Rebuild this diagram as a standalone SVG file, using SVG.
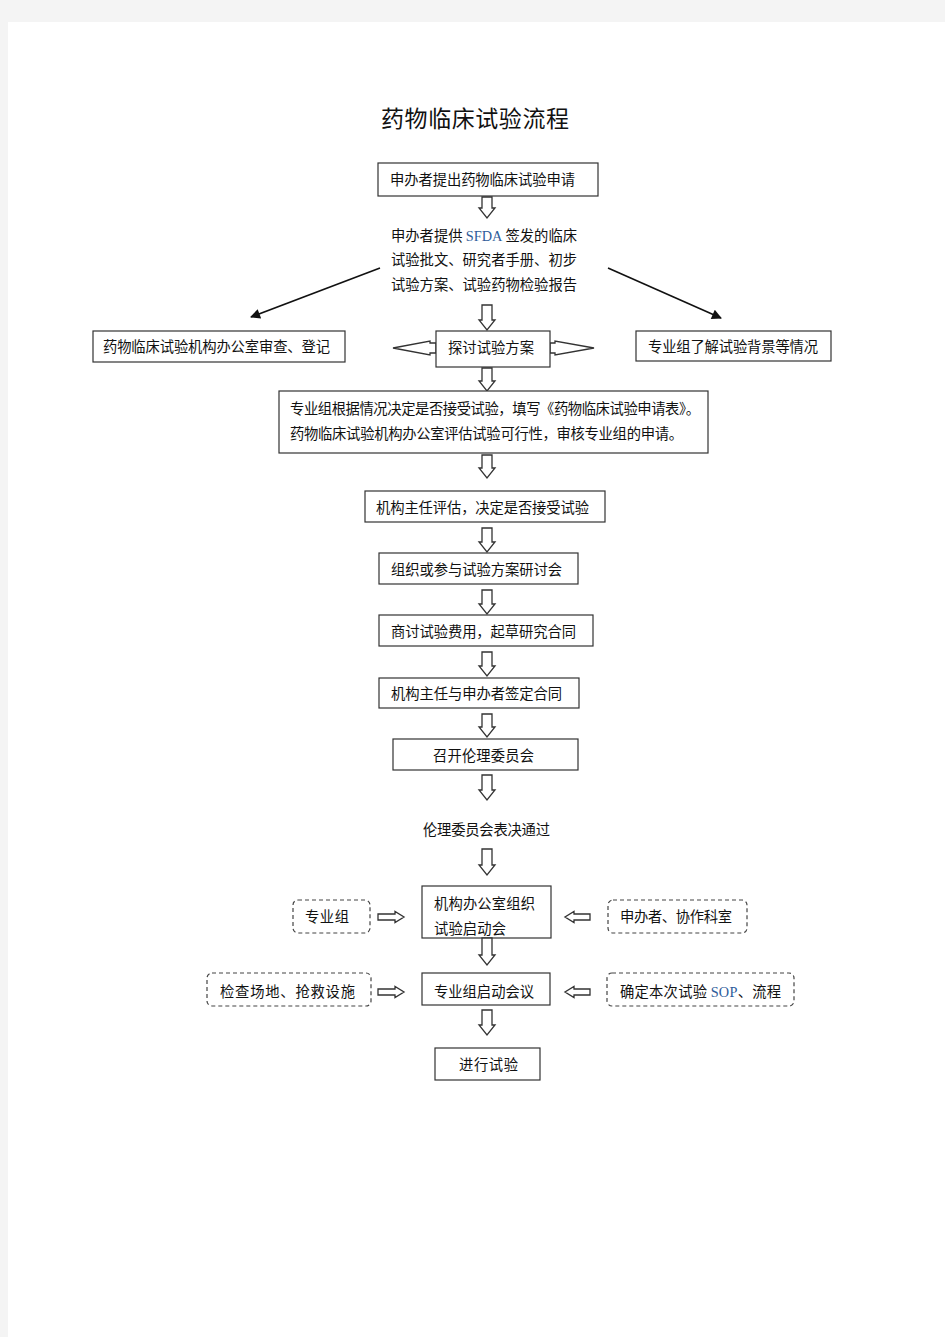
<svg xmlns="http://www.w3.org/2000/svg" width="945" height="1337" viewBox="0 0 945 1337">
<style>
text{font-family:"Noto Sans CJK SC","Liberation Sans",sans-serif;fill:#111;font-size:14.3px}
.box{fill:#fff;stroke:#333;stroke-width:1.2}
.dash{fill:#fff;stroke:#444;stroke-width:1.2;stroke-dasharray:4 3}
.ha{fill:#fff;stroke:#333;stroke-width:1.3}
.en{font-family:"Liberation Serif",serif;fill:#2e5c9a}
.ln{stroke:#111;stroke-width:1.6;fill:none}
</style>
<defs>
<marker id="ah" viewBox="0 0 10 10" refX="9" refY="5" markerWidth="12" markerHeight="10" orient="auto" markerUnits="userSpaceOnUse">
<path d="M0,0 L10,5 L0,10 Z" fill="#111"/>
</marker>
</defs>
<rect x="0" y="0" width="945" height="1337" fill="#f4f4f4"/>
<rect x="8" y="22" width="937" height="1315" fill="#fff"/>
<text x="475" y="127" text-anchor="middle" style="font-size:23px" textLength="188">药物临床试验流程</text>

<g id="connectors">
<path class="ha" d="M482,197 H492 V208 H495 L487,218 L479,208 H482 Z"/>
<path class="ha" d="M482,305 H492 V320 H495 L487,330 L479,320 H482 Z"/>
<path class="ha" d="M482,368 H492 V381 H495 L487,391 L479,381 H482 Z"/>
<path class="ha" d="M482,455 H492 V468 H495 L487,478 L479,468 H482 Z"/>
<path class="ha" d="M482,528 H492 V542 H495 L487,552 L479,542 H482 Z"/>
<path class="ha" d="M482,590 H492 V604 H495 L487,614 L479,604 H482 Z"/>
<path class="ha" d="M482,652 H492 V666 H495 L487,676 L479,666 H482 Z"/>
<path class="ha" d="M482,714 H492 V727 H495 L487,737 L479,727 H482 Z"/>
<path class="ha" d="M482,775 H492 V790 H495 L487,800 L479,790 H482 Z"/>
<path class="ha" d="M482,849 H492 V865 H495 L487,875 L479,865 H482 Z"/>
<path class="ha" d="M482,1010 H492 V1025 H495 L487,1035 L479,1025 H482 Z"/>
<line class="ln" x1="380" y1="268" x2="251" y2="317" marker-end="url(#ah)"/>
<line class="ln" x1="608" y1="268" x2="721" y2="318" marker-end="url(#ah)"/>
<path class="ha" d="M436,343 H430 V341 L393,348 L430,355 V353 H436 Z"/>
<path class="ha" d="M550,343 H555 V341 L594,348 L555,355 V353 H550 Z"/>
<path class="ha" d="M378,914 H395 V911.5 L404,917 L395,922.5 V920 H378 Z"/>
<path class="ha" d="M590,914 H574 V911.5 L565,917 L574,922.5 V920 H590 Z"/>
<path class="ha" d="M378,989 H395 V986.5 L404,992 L395,997.5 V995 H378 Z"/>
<path class="ha" d="M590,989 H574 V986.5 L565,992 L574,997.5 V995 H590 Z"/>
</g>

<g id="n1"><rect class="box" x="378" y="163" width="220" height="33"/><text x="390" y="185" textLength="185">申办者提出药物临床试验申请</text></g>
<g id="n2">
<text x="391" y="241" textLength="186">申办者提供 <tspan class="en">SFDA</tspan> 签发的临床</text>
<text x="391" y="265" textLength="186">试验批文、研究者手册、初步</text>
<text x="391" y="290" textLength="186">试验方案、试验药物检验报告</text>
</g>
<g id="n3"><rect class="box" x="93" y="331" width="252" height="31"/><text x="103" y="352" textLength="227">药物临床试验机构办公室审查、登记</text></g>
<g id="n4"><rect class="box" x="436" y="331" width="114" height="36"/><text x="448" y="353" textLength="86">探讨试验方案</text></g>
<g id="n5"><rect class="box" x="636" y="331" width="195" height="30"/><text x="648" y="352" textLength="170">专业组了解试验背景等情况</text></g>
<g id="n6"><rect class="box" x="279" y="391" width="429" height="62"/>
<text x="290" y="414" textLength="410">专业组根据情况决定是否接受试验，填写《药物临床试验申请表》。</text>
<text x="290" y="439" textLength="393">药物临床试验机构办公室评估试验可行性，审核专业组的申请。</text></g>
<g id="n7"><rect class="box" x="365" y="491" width="240" height="31"/><text x="376" y="513" textLength="213">机构主任评估，决定是否接受试验</text></g>
<g id="n8"><rect class="box" x="379" y="553" width="199" height="31"/><text x="391" y="575" textLength="171">组织或参与试验方案研讨会</text></g>
<g id="n9"><rect class="box" x="379" y="615" width="214" height="31"/><text x="391" y="637" textLength="185">商讨试验费用，起草研究合同</text></g>
<g id="n10"><rect class="box" x="379" y="678" width="200" height="30"/><text x="391" y="699" textLength="171">机构主任与申办者签定合同</text></g>
<g id="n11"><rect class="box" x="393" y="739" width="185" height="31"/><text x="433" y="761" textLength="101">召开伦理委员会</text></g>
<g id="n12"><text x="423" y="835" textLength="127">伦理委员会表决通过</text></g>
<g id="n13"><rect class="box" x="422" y="886" width="129" height="52"/>
<text x="434" y="909" textLength="101">机构办公室组织</text>
<text x="434" y="934" textLength="72">试验启动会</text></g>
<path class="ha" d="M482,938 H492 V955 H495 L487,965 L479,955 H482 Z"/>
<g id="n14"><rect class="dash" x="293" y="900" width="77" height="33" rx="5"/><text x="305" y="922" textLength="44">专业组</text></g>
<g id="n15"><rect class="dash" x="608" y="900" width="139" height="33" rx="5"/><text x="620" y="922" textLength="112">申办者、协作科室</text></g>
<g id="n16"><rect class="dash" x="207" y="973" width="164" height="33" rx="5"/><text x="220" y="997" textLength="135">检查场地、抢救设施</text></g>
<g id="n17"><rect class="box" x="422" y="973" width="128" height="32"/><text x="434" y="997" textLength="100">专业组启动会议</text></g>
<g id="n18"><rect class="dash" x="607" y="973" width="187" height="33" rx="5"/><text x="620" y="997" textLength="161">确定本次试验 <tspan class="en">SOP</tspan>、流程</text></g>
<g id="n19"><rect class="box" x="435" y="1048" width="105" height="32"/><text x="459" y="1070" textLength="59">进行试验</text></g>
</svg>
